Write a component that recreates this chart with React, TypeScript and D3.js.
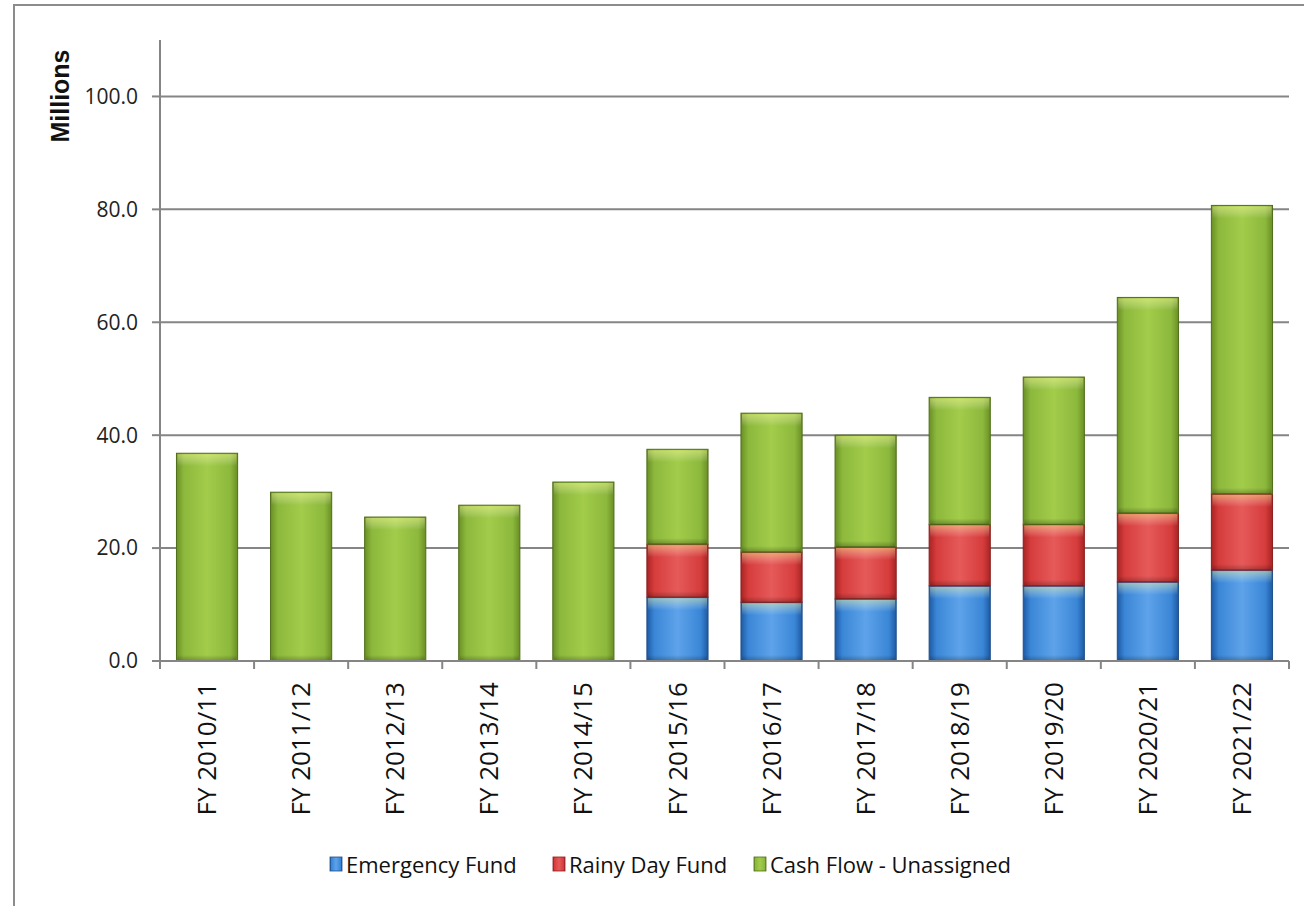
import React from "react";
import * as d3 from "d3";

const categories = ["FY 2010/11","FY 2011/12","FY 2012/13","FY 2013/14","FY 2014/15","FY 2015/16","FY 2016/17","FY 2017/18","FY 2018/19","FY 2019/20","FY 2020/21","FY 2021/22"];
const emergencyFund = [0,0,0,0,0,11.3,10.4,11.0,13.3,13.3,14.0,16.1];
const rainyDayFund = [0,0,0,0,0,9.4,8.9,9.2,10.9,10.9,12.2,13.5];
const cashFlowUnassigned = [36.8,29.9,25.5,27.6,31.7,16.8,24.6,19.8,22.5,26.1,38.2,51.1];
const yTicks = [0,20,40,60,80,100];
const seriesNames = ["Emergency Fund","Rainy Day Fund","Cash Flow - Unassigned"];

const W = 1304, H = 906;
const M = { left: 160, right: 1289, top: 40, bottom: 661 };

const palette = [
  { id: "blue", edge: "#1d5aa3", base: "#3a86d6", light: "#5ea3ea", stroke: "#1f4f8a" },
  { id: "red", edge: "#a82424", base: "#d63c3c", light: "#e65a5a", stroke: "#8a1e1e" },
  { id: "green", edge: "#6a8f26", base: "#8cb83c", light: "#a2cc4a", stroke: "#4f6d18" },
];

export default function App() {
  const x = d3.scaleBand<string>().domain(categories).range([M.left, M.right]).paddingInner(0.35).paddingOuter(0.175);
  const y = d3.scaleLinear().domain([0, 110]).range([M.bottom, M.top]);
  const rows = categories.map((c, i) => ({ cat: c, e: emergencyFund[i], r: rainyDayFund[i], c2: cashFlowUnassigned[i] }));
  const stack = d3.stack<any>().keys(["e", "r", "c2"])(rows);
  const step = (M.right - M.left) / categories.length;
  const font = "'Open Sans', sans-serif";

  return (
    <svg width={W} height={H} style={{ position: "absolute", left: 0, top: 0, background: "#fff" }}>
      <defs>
        {palette.map((p) => (
          <linearGradient key={p.id} id={"g-" + p.id} x1="0" x2="1" y1="0" y2="0">
            <stop offset="0" stopColor={p.edge} />
            <stop offset="0.12" stopColor={p.base} />
            <stop offset="0.5" stopColor={p.light} />
            <stop offset="0.88" stopColor={p.base} />
            <stop offset="1" stopColor={p.edge} />
          </linearGradient>
        ))}
        <linearGradient id="topHi" x1="0" x2="0" y1="0" y2="1">
          <stop offset="0" stopColor="#ffff99" stopOpacity="0.45" />
          <stop offset="1" stopColor="#ffffff" stopOpacity="0" />
        </linearGradient>
        <linearGradient id="botSh" x1="0" x2="0" y1="0" y2="1">
          <stop offset="0" stopColor="#000" stopOpacity="0" />
          <stop offset="1" stopColor="#000" stopOpacity="0.25" />
        </linearGradient>
      </defs>
      <rect x={14} y={5} width={1310} height={930} fill="#fff" stroke="#8c8c8c" strokeWidth={2} />

      {yTicks.filter((t) => t > 0).map((t) => (
        <line key={t} x1={M.left} x2={M.right} y1={y(t)} y2={y(t)} stroke="#858585" strokeWidth={2} />
      ))}

      {stack.map((s, si) =>
        s.map((d, i) => {
          const v = d[1] - d[0];
          if (v <= 0) return null;
          const bx = x(categories[i])!;
          const bw = x.bandwidth();
          const y0 = y(d[0]);
          const y1 = y(d[1]);
          const p = palette[si];
          const h = y0 - y1;
          return (
            <g key={si + "-" + i}>
              <rect x={bx} y={y1} width={bw} height={h} fill={`url(#g-${p.id})`} stroke={p.stroke} strokeWidth={1} />
              <rect x={bx + 1} y={y1 + 1} width={bw - 2} height={Math.min(12, h - 2)} fill="url(#topHi)" />
              <rect x={bx + 1} y={y0 - Math.min(6, h / 3)} width={bw - 2} height={Math.min(6, h / 3)} fill="url(#botSh)" />
            </g>
          );
        })
      )}

      <line x1={M.left} x2={M.left} y1={M.top} y2={M.bottom} stroke="#858585" strokeWidth={2} />
      {yTicks.map((t) => (
        <g key={t}>
          <line x1={M.left - 8} x2={M.left} y1={y(t)} y2={y(t)} stroke="#858585" strokeWidth={2} />
          <text x={138} y={y(t)} dy="0.35em" textAnchor="end" fontFamily={font} fontSize={21} fill="#222">
            {t.toFixed(1)}
          </text>
        </g>
      ))}
      <text transform={`translate(69,96) rotate(-90)`} dy="0" textAnchor="middle" fontFamily="'Liberation Sans', Arial, sans-serif" fontWeight="bold" fontSize={25} fill="#111">
        Millions
      </text>

      <line x1={M.left} x2={M.right} y1={M.bottom} y2={M.bottom} stroke="#858585" strokeWidth={2} />
      {d3.range(categories.length + 1).map((k) => (
        <line key={k} x1={M.left + k * step} x2={M.left + k * step} y1={M.bottom} y2={M.bottom + 8} stroke="#858585" strokeWidth={2} />
      ))}
      {categories.map((c) => (
        <text key={c} transform={`translate(${x(c)! + x.bandwidth() / 2},682) rotate(-90)`} dy="0.35em" textAnchor="end" fontFamily={font} fontSize={26} fill="#111">
          {c}
        </text>
      ))}

      {[
        { name: seriesNames[0], sx: 330, tx: 346 },
        { name: seriesNames[1], sx: 553, tx: 569 },
        { name: seriesNames[2], sx: 754, tx: 770 },
      ].map((l, i) => (
        <g key={l.name}>
          <rect x={l.sx} y={857} width={12} height={14} fill={`url(#g-${palette[i].id})`} stroke={palette[i].stroke} strokeWidth={0.8} />
          <text x={l.tx} y={865} dy="0.35em" fontFamily={font} fontSize={22} fill="#111">
            {l.name}
          </text>
        </g>
      ))}
    </svg>
  );
}
